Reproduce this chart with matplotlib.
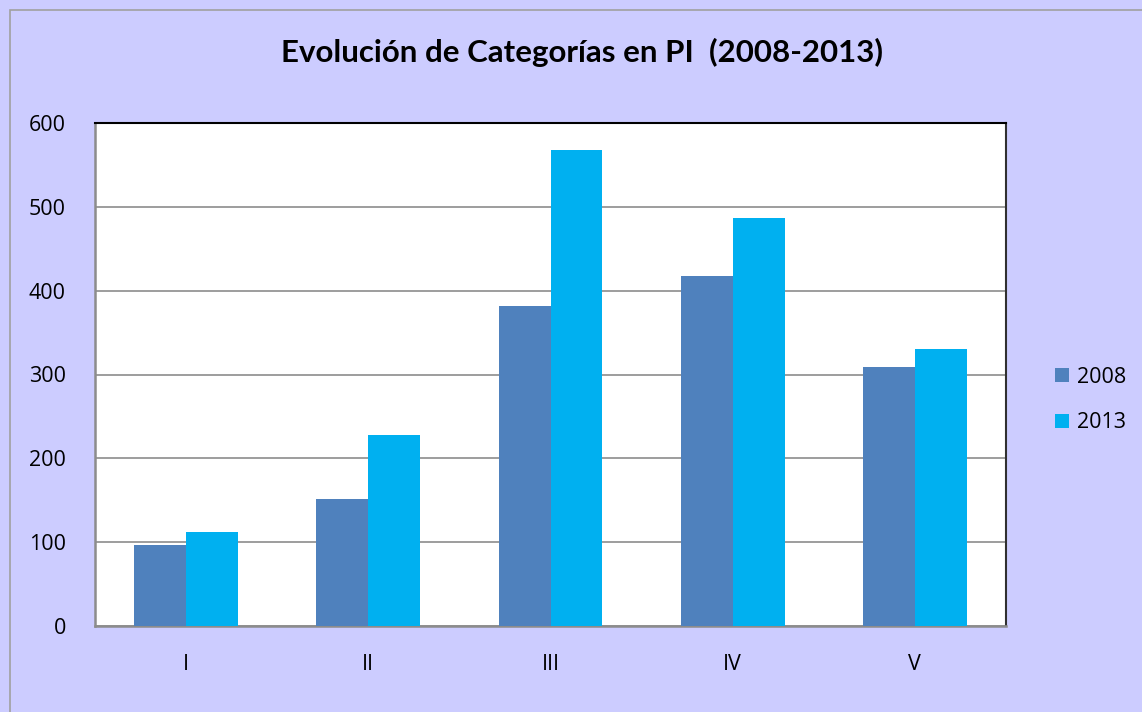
import matplotlib.pyplot as plt
import numpy as np
from matplotlib.patches import Rectangle

plt.rcParams['font.family'] = ['Open Sans', 'DejaVu Sans']

categorias = ['I', 'II', 'III', 'IV', 'V']
valores_2008 = [97, 152, 382, 417, 309]
valores_2013 = [112, 228, 568, 487, 330]
series = ['2008', '2013']
colores = ['#4F81BD', '#00B0F0']

W, H = 1142, 712
fig = plt.figure(figsize=(W / 100, H / 100), dpi=100, facecolor='#CCCCFF')

# borde del gráfico
fig.patches.append(Rectangle((10 / W, -0.01), 1.02, (H - 10) / H + 0.01,
                             transform=fig.transFigure, fill=False,
                             edgecolor='#A0A0A0', linewidth=1.2))

ax = fig.add_axes([95 / W, (H - 626) / H, (1006 - 95) / W, (626 - 123) / H])
ax.set_facecolor('white')

x = np.arange(len(categorias))
ancho = 0.285
ax.bar(x - ancho / 2, valores_2008, ancho, color=colores[0], label=series[0], zorder=3)
ax.bar(x + ancho / 2, valores_2013, ancho, color=colores[1], label=series[1], zorder=3)

ax.set_xlim(-0.5, len(categorias) - 0.5)
ax.set_ylim(0, 600)
ax.set_yticks(range(0, 601, 100))
ax.yaxis.grid(True, color='#8C8C8C', linewidth=1.2, zorder=0)
ax.set_xticks(x)
ax.set_xticklabels(categorias)
ax.tick_params(axis='x', length=0, pad=20, labelsize=15.5)
ax.tick_params(axis='y', length=0, pad=21, labelsize=15.5)

ax.spines['left'].set_color('#8C8C8C')
ax.spines['bottom'].set_color('#8C8C8C')
ax.spines['left'].set_linewidth(1.8)
ax.spines['bottom'].set_linewidth(1.8)
ax.spines['top'].set_color('black')
ax.spines['right'].set_color('#303030')
ax.spines['top'].set_linewidth(1.5)
ax.spines['right'].set_linewidth(1.5)

fig.text(582 / W, 1 - 52 / H, 'Evolución de Categorías en PI  (2008-2013)',
         ha='center', va='center', fontsize=22.5, fontweight='bold',
         family=['Lato', 'DejaVu Sans'])

ax.legend(loc='center left', bbox_to_anchor=(1036 / W, (H - 400) / H),
          bbox_transform=fig.transFigure, frameon=False, fontsize=15.5,
          handlelength=0.65, handleheight=0.65, handletextpad=0.35,
          labelspacing=1.15)

fig.savefig('out.png', dpi=100, facecolor=fig.get_facecolor())
